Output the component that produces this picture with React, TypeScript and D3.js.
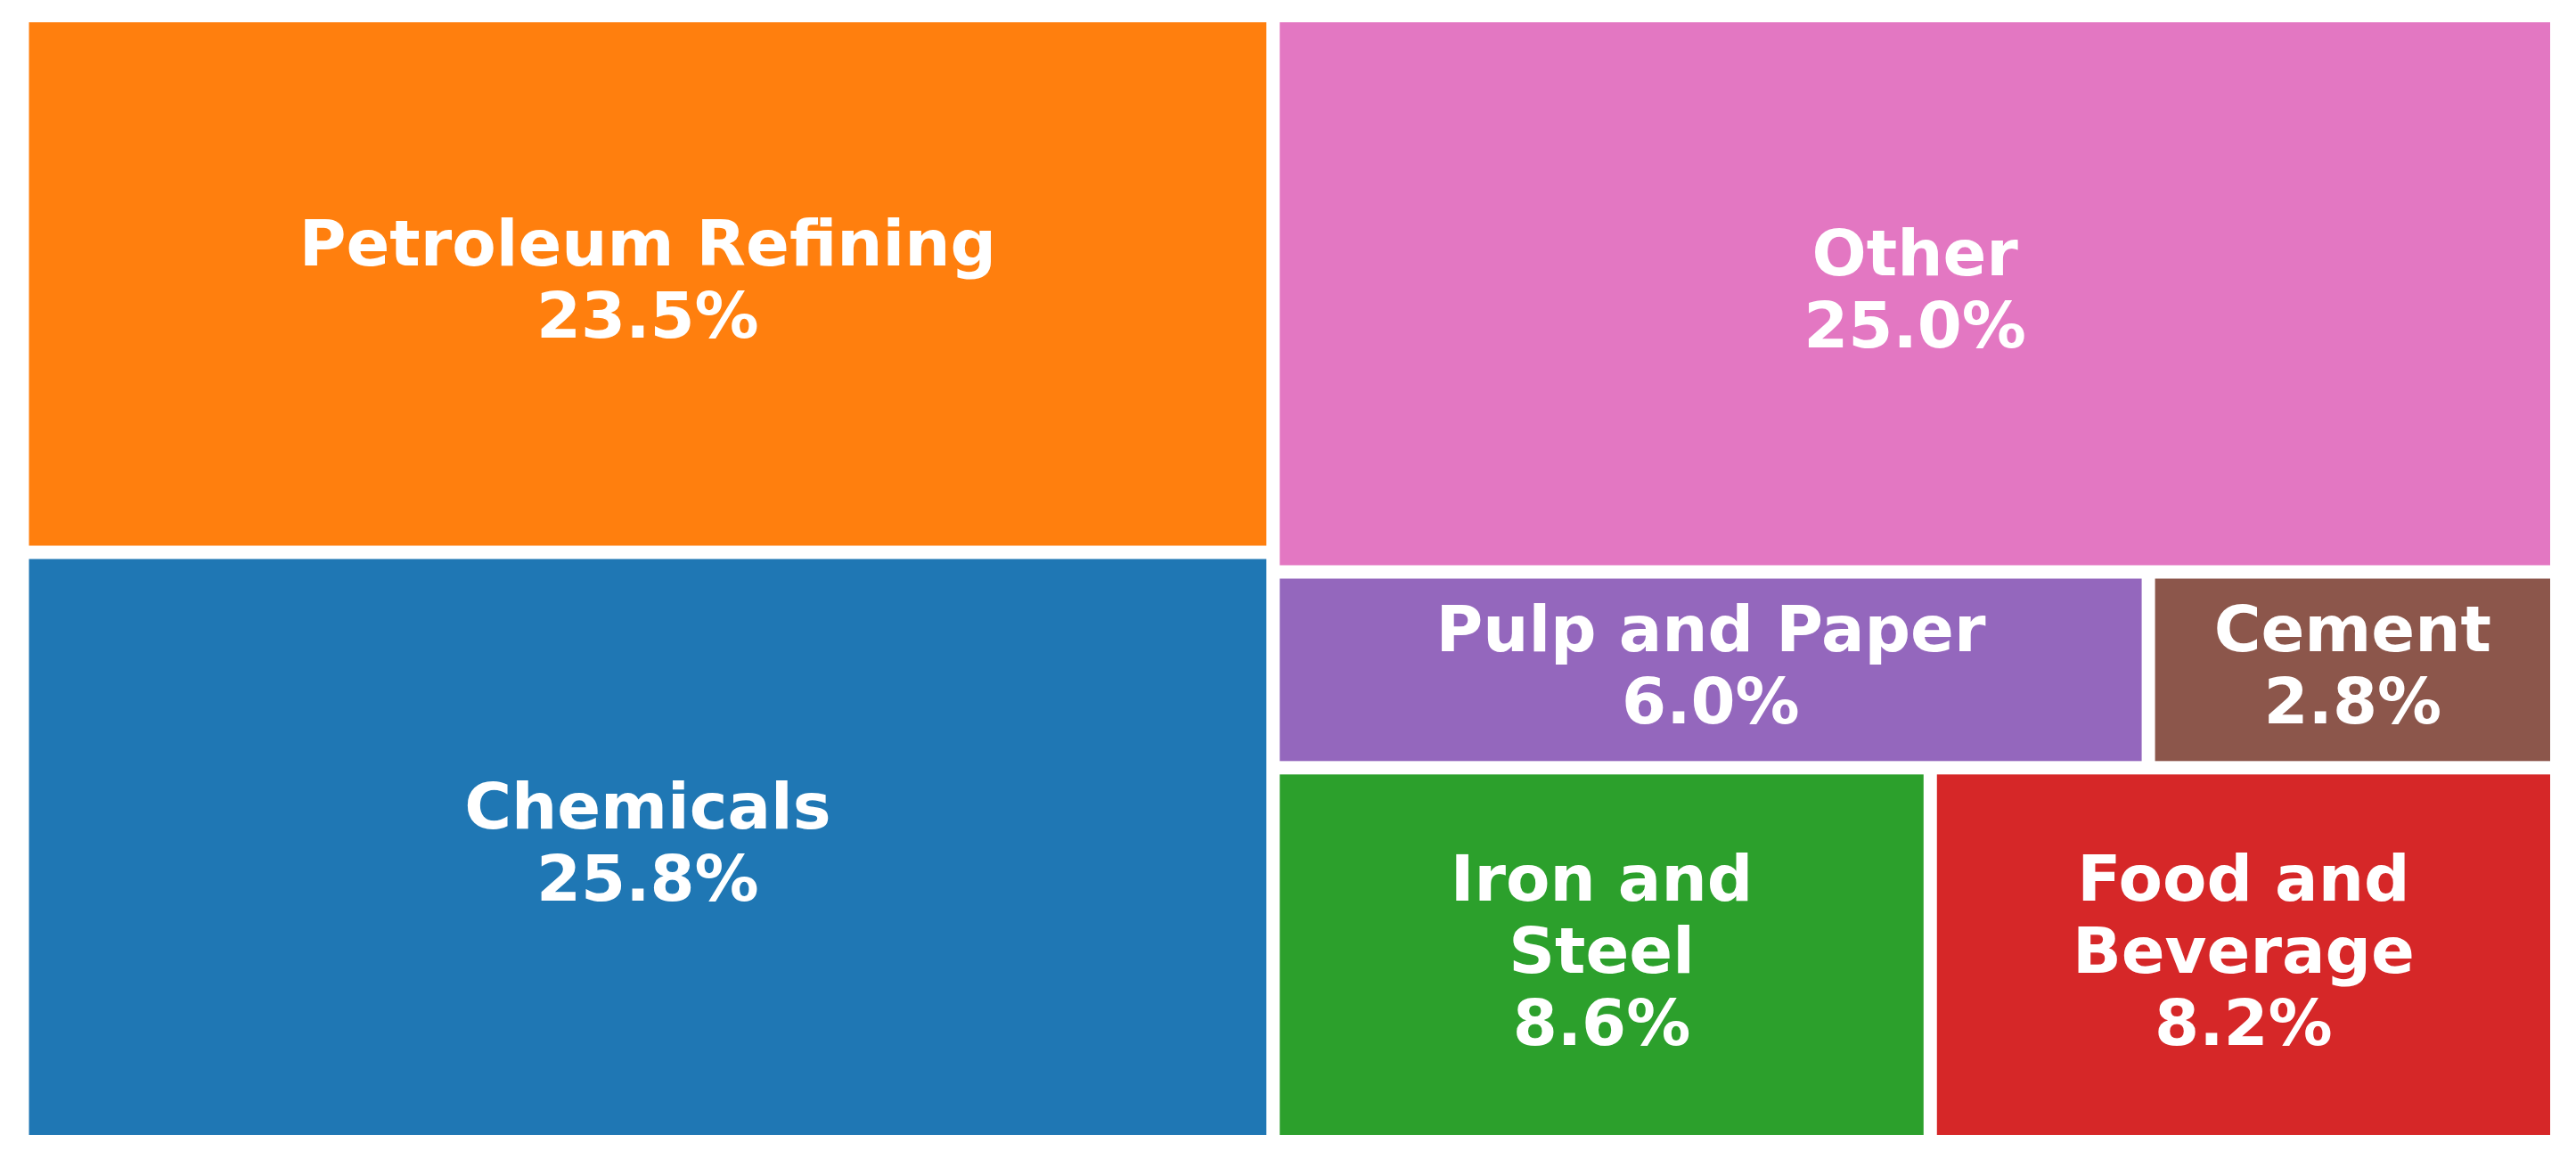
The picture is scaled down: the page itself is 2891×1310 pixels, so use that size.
import React from "react";
import * as d3 from "d3";

const names = ["Petroleum Refining", "Chemicals", "Other", "Pulp and Paper", "Cement", "Iron and Steel", "Food and Beverage"];
const shares = [23.5, 25.8, 25.0, 6.0, 2.8, 8.6, 8.2];
const colors = ["#ff7f0e", "#1f77b4", "#e377c2", "#9467bd", "#8c564b", "#2ca02c", "#d62728"];
const labelLines = [["Petroleum Refining"], ["Chemicals"], ["Other"], ["Pulp and Paper"], ["Cement"], ["Iron and", "Steel"], ["Food and", "Beverage"]];

// arrangement of the tiles (indices into the arrays above)
const arrangement: any = {
  split: "x",
  children: [
    { split: "y", children: [0, 1] },
    {
      split: "y",
      children: [
        2,
        { split: "y", children: [{ split: "x", children: [3, 4] }, { split: "x", children: [5, 6] }] },
      ],
    },
  ],
};

const W = 2891;
const H = 1310;
const BOX = { x0: 25, y0: 17.5, x1: 2869.5, y1: 1281.5 };
const GAP = 7.5;
const FONT = 72;
const LINE = 81;

export default function App() {
  const root = d3
    .hierarchy<any>(arrangement, (d: any) =>
      d.children ? d.children.map((c: any) => (typeof c === "number" ? { leaf: c } : c)) : null
    )
    .sum((d: any) => (d.leaf !== undefined ? shares[d.leaf] : 0));

  const tile = (node: any, x0: number, y0: number, x1: number, y1: number) => {
    if (node.data.split === "x") d3.treemapDice(node, x0, y0, x1, y1);
    else d3.treemapSlice(node, x0, y0, x1, y1);
  };

  d3.treemap<any>().tile(tile as any).size([BOX.x1 - BOX.x0, BOX.y1 - BOX.y0])(root);

  const leaves = root.leaves() as any[];

  return (
    <svg
      width={W}
      height={H}
      style={{ position: "absolute", left: 0, top: 0, background: "#ffffff" }}
      xmlns="http://www.w3.org/2000/svg"
    >
      <rect x={0} y={0} width={W} height={H} fill="#ffffff" />
      <g transform={`translate(${BOX.x0},${BOX.y0})`}>
        {leaves.map((lf) => {
          const i = lf.data.leaf;
          const x = lf.x0 + GAP;
          const y = lf.y0 + GAP;
          const w = lf.x1 - lf.x0 - 2 * GAP;
          const h = lf.y1 - lf.y0 - 2 * GAP;
          const cx = (lf.x0 + lf.x1) / 2;
          const cy = (lf.y0 + lf.y1) / 2;
          const lines = [...labelLines[i], `${shares[i].toFixed(1)}%`];
          const n = lines.length;
          return (
            <g key={names[i]}>
              <rect x={x} y={y} width={w} height={h} fill={colors[i]} />
              <text
                textAnchor="middle"
                fill="#ffffff"
                fontFamily="'DejaVu Sans', sans-serif"
                fontWeight="bold"
                fontSize={FONT}
              >
                {lines.map((t, k) => (
                  <tspan key={k} x={cx} y={cy + (k - (n - 1) / 2) * LINE + 20}>
                    {t}
                  </tspan>
                ))}
              </text>
            </g>
          );
        })}
      </g>
    </svg>
  );
}
